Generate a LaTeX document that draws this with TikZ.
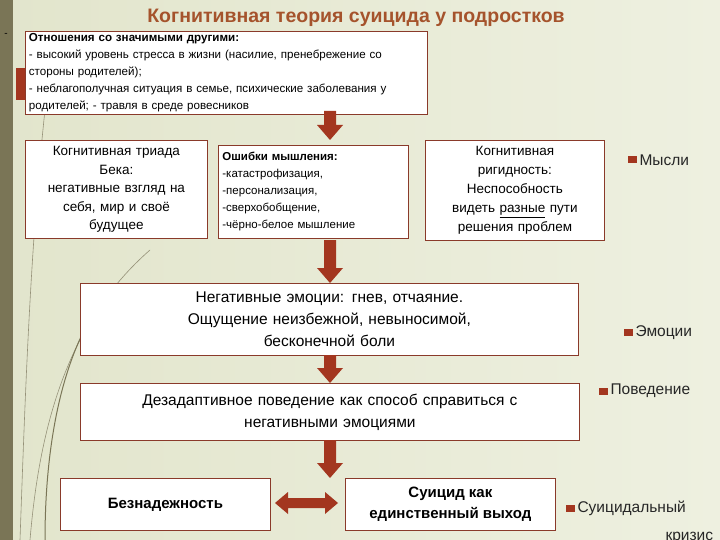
\documentclass[tikz,border=0pt]{standalone}
\usepackage{fontspec}
\setmainfont{Liberation Sans}
\usetikzlibrary{shapes.arrows}
\definecolor{bg}{HTML}{EEF0E0}
\definecolor{bgd}{HTML}{E2E5CC}
\definecolor{olive}{HTML}{7A7556}
\definecolor{rd}{HTML}{A3361F}
\definecolor{ttl}{HTML}{A5532C}
\definecolor{bx}{HTML}{8A3A2A}
\tikzset{
 box/.style={draw=bx,line width=0.8pt,fill=white,inner sep=2pt,align=center},
 side/.style={anchor=west,font=\fontsize{15.5}{18}\selectfont,text=black!85},
}
\newcommand{\blockdown}[3]{% x, y1, y2
 \fill[rd] (#1-6,#2) -- (#1+6,#2) -- (#1+6,#3-15) -- (#1+13,#3-15) -- (#1,#3) -- (#1-13,#3-15) -- (#1-6,#3-15) -- cycle;}
\begin{document}
\begin{tikzpicture}[x=1pt,y=-1pt]
\useasboundingbox (0,0) rectangle (720,540);
\shade[left color=bgd,right color=bg] (0,0) rectangle (720,540);
\fill[olive] (0,0) rectangle (13,540);
\fill[rd] (16,68) rectangle (30,100);
\draw[olive!80,line width=0.6pt] (20,540) .. controls (25,400) and (30,250) .. (45,110);
\draw[olive!80,line width=0.6pt] (30,540) .. controls (40,420) and (70,320) .. (150,250);
\draw[olive,line width=1pt] (45,540) .. controls (45,450) and (60,350) .. (110,290);
\node[text=ttl,font=\bfseries\fontsize{19.5}{22}\selectfont] (title) at (356,18) {Когнитивная теория суицида у подростков};
\node (dash) at (6,35) {-};
\node[box,minimum width=402,minimum height=80,anchor=north west,align=left,text width=395,font=\fontsize{11.6}{17}\selectfont] (top) at (25,31)
 {\textbf{Отношения со значимыми другими:}\\- высокий уровень стресса в жизни (насилие, пренебрежение со\\стороны родителей);\\- неблагополучная ситуация в семье, психические заболевания у\\родителей; - травля в среде ровесников};
\node[box,minimum width=182,minimum height=98,anchor=north west,text width=176,font=\fontsize{13.5}{18.5}\selectfont] (triad) at (25,140)
 {Когнитивная триада\\Бека:\\негативные взгляд на\\себя, мир и своё\\будущее};
\node[box,minimum width=190,minimum height=93,anchor=north west,align=left,text width=182,font=\fontsize{11.5}{17}\selectfont] (err) at (218,145)
 {\textbf{Ошибки мышления:}\\-катастрофизация,\\-персонализация,\\-сверхобобщение,\\-чёрно-белое мышление};
\node[box,minimum width=179,minimum height=100,anchor=north west,text width=172,font=\fontsize{13.5}{19}\selectfont] (rig) at (425,140)
 {Когнитивная\\ригидность:\\Неспособность\\видеть \underline{разные} пути\\решения проблем};
\node[box,minimum width=498,minimum height=72,anchor=north west,text width=490,font=\fontsize{15.5}{22}\selectfont] (emo) at (80,283)
 {Негативные эмоции: гнев, отчаяние.\\Ощущение неизбежной, невыносимой,\\бесконечной боли};
\node[box,minimum width=499,minimum height=57,anchor=north west,text width=490,font=\fontsize{15.5}{22}\selectfont] (beh) at (80,383)
 {Дезадаптивное поведение как способ справиться с\\негативными эмоциями};
\node[box,minimum width=210,minimum height=52,anchor=north west,font=\bfseries\fontsize{15}{19}\selectfont] (hope) at (60,478) {Безнадежность};
\node[box,minimum width=210,minimum height=52,anchor=north west,font=\bfseries\fontsize{15}{21}\selectfont] (sui) at (345,478) {Суицид как\\единственный выход};
\blockdown{330}{111}{140}
\blockdown{330}{240}{283}
\blockdown{330}{355}{383}
\blockdown{330}{440}{478}
\fill[rd] (275,503) -- (288,492) -- (288,498) -- (325,498) -- (325,492) -- (338,503) -- (325,514) -- (325,508) -- (288,508) -- (288,514) -- cycle;
\fill[rd] (628,156) rectangle (637,163); \node[side] (s1) at (636,160) {Мысли};
\fill[rd] (624,329) rectangle (633,336); \node[side] (s2) at (632,333) {Эмоции};
\fill[rd] (599,388) rectangle (608,395); \node[side] (s3) at (607,391) {Поведение};
\fill[rd] (566,505) rectangle (575,512); \node[side] (s4) at (574,508) {Суицидальный};
\node[side] (s5) at (662,538) {кризис};
\end{tikzpicture}
\end{document}
